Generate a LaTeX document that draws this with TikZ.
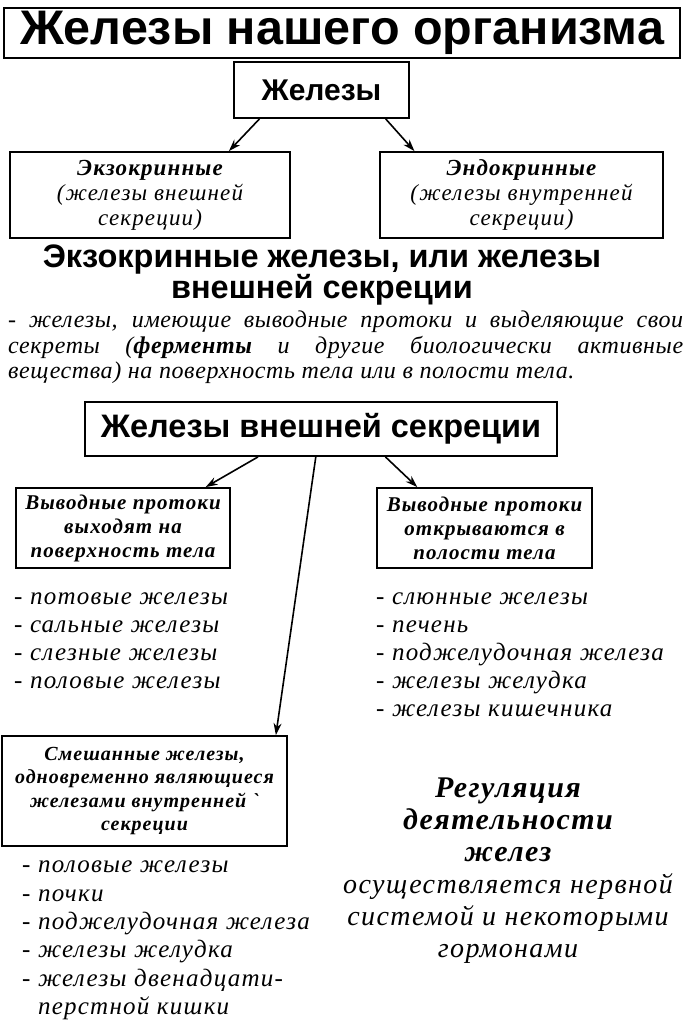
\documentclass[tikz,border=0pt]{standalone}
\usepackage{fontspec}
\setmainfont{Liberation Serif}
\newfontfamily\hd{Liberation Sans}
\newfontfamily\sps[LetterSpace=5]{Liberation Serif}
\newfontfamily\spp[LetterSpace=2.5]{Liberation Serif}
\usetikzlibrary{arrows.meta,calc}
\begin{document}
\begin{tikzpicture}[x=1pt,y=-1pt,
  box/.style={draw,line width=1.8pt,inner sep=0pt},
  arr/.style={line width=1.6pt,-{Stealth[length=12pt,width=8pt]}},
  li/.style={anchor=base west,inner sep=0pt,font=\sps\fontsize{25}{28}\selectfont\itshape},
  bt/.style={align=center,font=\sps\fontsize{21}{24}\selectfont\bfseries\itshape},
]
\useasboundingbox (0,0) rectangle (689,1024);
\fill[white] (0,0) rectangle (689,1024);

\node[box,minimum width=676pt,minimum height=50pt,font=\hd\bfseries\fontsize{48.5}{50}\selectfont] (title) at (342,33) {Железы нашего организма};
\node[box,minimum width=175pt,minimum height=56pt,font=\hd\bfseries\fontsize{30}{30}\selectfont] (zh) at (321.5,90) {Железы};
\node[box,minimum width=280pt,minimum height=86pt,align=center,font=\sps\fontsize{23}{25}\selectfont\itshape] (exo) at (150,195) {\bfseries Экзокринные\\(железы внешней\\секреции)};
\node[box,minimum width=283pt,minimum height=86pt,align=center,font=\sps\fontsize{23}{25}\selectfont\itshape] (endo) at (521.5,195) {\bfseries Эндокринные\\(железы внутренней\\секреции)};

\node[align=center,inner sep=0pt,font=\hd\bfseries\fontsize{32.5}{30}\selectfont] (h2) at (322,275) {Экзокринные железы, или железы\\внешней секреции};

\node[anchor=north west,inner sep=0pt,align=left,font=\spp\fontsize{24}{25.5}\selectfont\itshape] (par) at (8,311) {\makebox[675pt][s]{- железы, имеющие выводные протоки и выделяющие свои}\\\makebox[675pt][s]{секреты (\textbf{ферменты} и другие биологически активные}\\вещества) на поверхность тела или в полости тела.};

\node[box,minimum width=472pt,minimum height=54pt,font=\hd\bfseries\fontsize{32.5}{31}\selectfont] (ext) at (321,429) {Железы внешней секреции};

\node[box,bt,minimum width=214pt,minimum height=80pt] (surf) at (123,528) {Выводные протоки\\выходят на\\поверхность тела};
\node[box,bt,minimum width=215pt,minimum height=80pt] (cav) at (484.5,528) {Выводные протоки\\открываются в\\полости тела};
\node[box,bt,minimum width=285pt,minimum height=110pt,font=\sps\fontsize{20}{23.5}\selectfont\bfseries\itshape] (mix) at (144.5,791) {Смешанные железы,\\одновременно являющиеся\\железами внутренней \textasciigrave\\секреции};

\node[li] (l1) at (14,604) {- потовые железы};
\node[li] (l2) at (14,632) {- сальные железы};
\node[li] (l3) at (14,660) {- слезные железы};
\node[li] (l4) at (14,688) {- половые железы};

\node[li] (r1) at (376,604) {- слюнные железы};
\node[li] (r2) at (376,632) {- печень};
\node[li] (r3) at (376,660) {- поджелудочная железа};
\node[li] (r4) at (376,688) {- железы желудка};
\node[li] (r5) at (376,716) {- железы кишечника};

\node[li] (m1) at (22,872) {- половые железы};
\node[li] (m2) at (22,901) {- почки};
\node[li] (m3) at (22,929) {- поджелудочная железа};
\node[li] (m4) at (22,957) {- железы желудка};
\node[li] (m5) at (22,986) {- железы двенадцати-};
\node[li] (m6) at (22,1014) {\phantom{- }перстной кишки};

\node[align=center,inner sep=0pt,font=\sps\fontsize{28}{32}\selectfont\itshape] (reg) at (508,871) {{\fontsize{30}{32}\selectfont\bfseries Регуляция}\\{\fontsize{30}{32}\selectfont\bfseries деятельности}\\{\fontsize{30}{32}\selectfont\bfseries желез}\\осуществляется нервной\\системой и некоторыми\\гормонами};

\draw[arr] ($(zh.south west)!0.149!(zh.south east)$) -- ($(exo.north west)!0.78!(exo.north east)$);
\draw[arr] ($(zh.south west)!0.863!(zh.south east)$) -- ($(endo.north west)!0.124!(endo.north east)$);
\draw[arr] ($(ext.south west)!0.367!(ext.south east)$) -- ($(surf.north west)!0.883!(surf.north east)$);
\draw[arr] ($(ext.south west)!0.636!(ext.south east)$) -- ($(cav.north west)!0.19!(cav.north east)$);
\draw[arr] ($(ext.south west)!0.489!(ext.south east)$) -- ($(mix.north west)!0.958!(mix.north east)$);
\end{tikzpicture}
\end{document}
